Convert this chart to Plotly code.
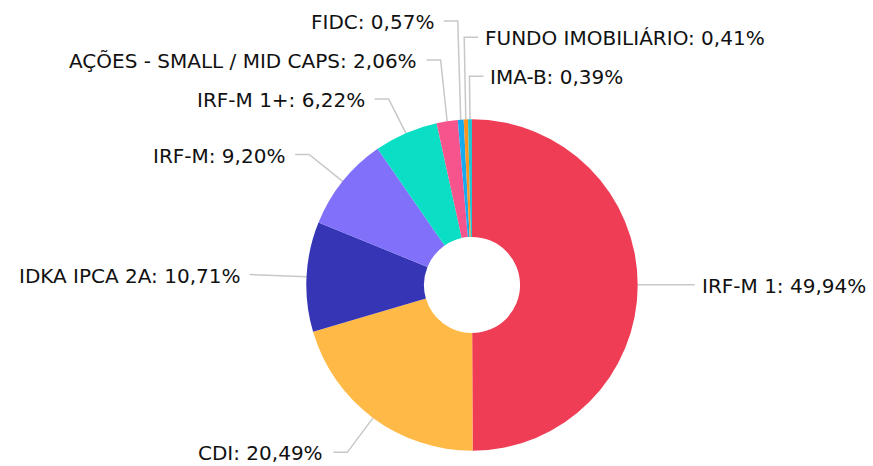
import math
import plotly.graph_objects as go

# ---- data ----
categories = ["IRF-M 1", "CDI", "IDKA IPCA 2A", "IRF-M", "IRF-M 1+",
              "AÇÕES - SMALL / MID CAPS", "FIDC", "FUNDO IMOBILIÁRIO", "IMA-B"]
values = [49.94, 20.49, 10.71, 9.20, 6.22, 2.06, 0.57, 0.41, 0.39]
colors = ["#EF3D55", "#FFB946", "#3535B5", "#8070FA", "#0ADEC4",
          "#F5558C", "#16AAF0", "#FF9420", "#22C4D2"]

# ---- layout geometry (pixels) ----
W, H = 873, 466
CX, CY, R = 472.0, 285.0, 165.7
HOLE = 0.29
L1, L2 = 43.0, 14.0
GAP_Y = 39.0
TOP_BOUND = 21.0
TEXT_PAD_LEFT = 9.0
TEXT_PAD_RIGHT = 6.0
FONT = dict(family="DejaVu Sans, Verdana, sans-serif", size=20, color="#111111")
LINE_COLOR = "#C8C8C8"

fig = go.Figure()
fig.add_trace(go.Pie(
    labels=categories, values=values, sort=False, direction="clockwise",
    rotation=0, hole=HOLE, textinfo="none", hoverinfo="label+percent",
    marker=dict(colors=colors, line=dict(width=0)),
    domain=dict(x=[(CX - R) / W, (CX + R) / W],
                y=[(H - CY - R) / H, (H - CY + R) / H]),
    showlegend=False,
))

# ---- label layout computed from the data ----
total = sum(values)
items = []
cum = 0.0
for name, v in zip(categories, values):
    mid = 360.0 * (cum + v / 2.0) / total
    cum += v
    t = math.radians(mid)
    dx, dy = math.sin(t), -math.cos(t)
    near_top = min(mid, 360 - mid) < 3.0
    side = 1 if (dx > 0 or near_top) else -1
    p0 = (CX + R * dx, CY + R * dy)
    p1 = (CX + (R + L1) * dx, CY + (R + L1) * dy)
    txt = f"{name}: " + f"{v:.2f}".replace(".", ",") + "%"
    # order from top to bottom along each side
    order = (mid if mid < 180 else mid - 360) if side > 0 else -mid
    items.append(dict(side=side, p0=p0, p1x=p1[0], y=p1[1], text=txt, order=order))

for side in (-1, 1):
    grp = sorted([it for it in items if it["side"] == side], key=lambda it: it["order"])
    n = len(grp)
    for i in range(n - 2, -1, -1):
        grp[i]["y"] = min(grp[i]["y"], grp[i + 1]["y"] - GAP_Y)
    if n:
        grp[0]["y"] = max(grp[0]["y"], TOP_BOUND)
    for i in range(1, n):
        grp[i]["y"] = max(grp[i]["y"], grp[i - 1]["y"] + GAP_Y)

for it in items:
    s = it["side"]
    x0, y0 = it["p0"]
    x1, y1 = it["p1x"], it["y"]
    x2 = x1 + s * L2
    pad = TEXT_PAD_RIGHT if s > 0 else TEXT_PAD_LEFT
    fig.add_trace(go.Scatter(
        x=[x0, x1, x2], y=[y0, y1, y1], mode="lines",
        line=dict(color=LINE_COLOR, width=1.5), hoverinfo="skip",
        showlegend=False,
    ))
    fig.add_annotation(
        x=x2 + s * pad, y=y1 + 1, xref="x", yref="y", text=it["text"],
        showarrow=False, xanchor="left" if s > 0 else "right", yanchor="middle",
        font=FONT, borderpad=0,
    )

fig.update_layout(
    width=W, height=H, margin=dict(l=0, r=0, t=0, b=0),
    paper_bgcolor="white", plot_bgcolor="rgba(0,0,0,0)",
    xaxis=dict(range=[0, W], visible=False, fixedrange=True),
    yaxis=dict(range=[H, 0], visible=False, fixedrange=True),
)

fig.write_html("out.html", config={"displayModeBar": False},
               post_script="document.body.style.margin='0';")
